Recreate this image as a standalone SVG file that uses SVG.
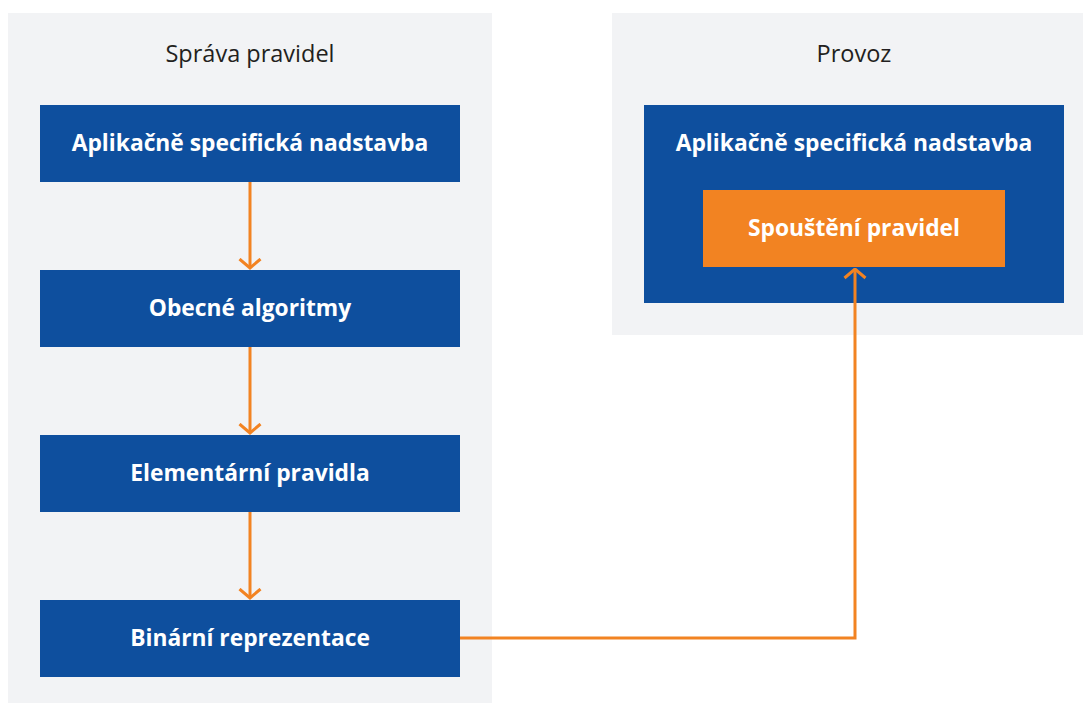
<svg xmlns="http://www.w3.org/2000/svg" width="1083" height="703" viewBox="0 0 1083 703">
<defs>
<style>
.panel{fill:#F2F3F5}
.box{fill:#0E4F9E}
.obox{fill:#F28322}
.title{font-family:"Open Sans","Liberation Sans",sans-serif;font-size:23.5px;fill:#231F20;text-anchor:middle}
.lbl{font-family:"Open Sans","Liberation Sans",sans-serif;font-size:22.8px;font-weight:bold;fill:#FFFFFF;text-anchor:middle}
.conn{fill:none;stroke:#F28322;stroke-width:3}
</style>
<marker id="ah" viewBox="0 0 12 24" refX="10.5" refY="12" markerWidth="12" markerHeight="24" markerUnits="userSpaceOnUse" orient="auto">
<path d="M1.5,1.5 L10.5,12 L1.5,22.5" fill="none" stroke="#F28322" stroke-width="3"/>
</marker>
</defs>
<rect width="1083" height="703" fill="#FFFFFF"/>
<g id="panel-sprava">
<rect class="panel" x="8" y="13" width="484" height="690"/>
<text class="title" x="250" y="62">Správa pravidel</text>
</g>
<g id="panel-provoz">
<rect class="panel" x="612" y="13" width="471" height="322"/>
<text class="title" x="854" y="62">Provoz</text>
</g>
<g id="node-aplikacne-left">
<rect class="box" x="40" y="105" width="420" height="77"/>
<text class="lbl" x="250" y="151">Aplikačně specifická nadstavba</text>
</g>
<g id="node-obecne">
<rect class="box" x="40" y="270" width="420" height="77"/>
<text class="lbl" x="250" y="316">Obecné algoritmy</text>
</g>
<g id="node-elementarni">
<rect class="box" x="40" y="435" width="420" height="77"/>
<text class="lbl" x="250" y="481">Elementární pravidla</text>
</g>
<g id="node-binarni">
<rect class="box" x="40" y="600" width="420" height="77"/>
<text class="lbl" x="250" y="646">Binární reprezentace</text>
</g>
<g id="node-aplikacne-right">
<rect class="box" x="644" y="105" width="420" height="198"/>
<text class="lbl" x="854" y="151">Aplikačně specifická nadstavba</text>
</g>
<g id="node-spousteni">
<rect class="obox" x="703" y="190" width="302" height="77"/>
<text class="lbl" x="854" y="236">Spouštění pravidel</text>
</g>
<g id="connectors">
<path class="conn" d="M250,182 V268" marker-end="url(#ah)"/>
<path class="conn" d="M250,347 V433" marker-end="url(#ah)"/>
<path class="conn" d="M250,512 V598" marker-end="url(#ah)"/>
<path class="conn" d="M460,638 H855 V269" marker-end="url(#ah)"/>
</g>
</svg>
